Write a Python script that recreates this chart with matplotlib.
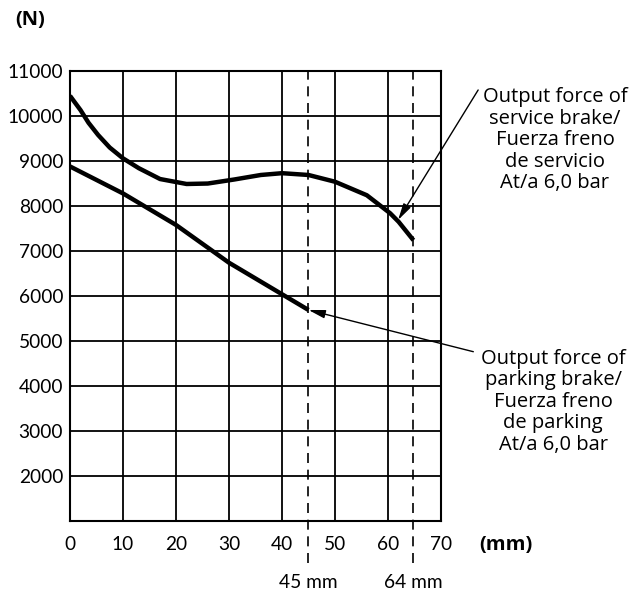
import matplotlib
matplotlib.use('Agg')
import matplotlib.pyplot as plt

# stroke (mm) vs output force (N)
service_x = [0, 2, 3.5, 5.3, 7.5, 10, 13, 17, 22, 26, 31, 36, 40, 45, 50, 56, 60.4, 62, 64.8]
service_y = [10450, 10130, 9850, 9580, 9300, 9060, 8840, 8600, 8490, 8500, 8590, 8690, 8730, 8690, 8540, 8240, 7840, 7650, 7240]

parking_x = [0, 10, 20, 30, 36, 40, 45]
parking_y = [8880, 8280, 7580, 6740, 6320, 6040, 5690]

x_ticks = [0, 10, 20, 30, 40, 50, 60, 70]
y_ticks = [2000, 3000, 4000, 5000, 6000, 7000, 8000, 9000, 10000, 11000]

marks = [45, 64.8]
mark_labels = ['45 mm', '64 mm']

service_text = 'Output force of\nservice brake/\nFuerza freno\nde servicio\nAt/a 6,0 bar'
parking_text = 'Output force of\nparking brake/\nFuerza freno\nde parking\nAt/a 6,0 bar'

tick_font = 'Lato'
note_font = 'Open Sans'

fig = plt.figure(figsize=(6.35, 5.92), dpi=100)
ax = fig.add_axes([0.1102, 0.1199, 0.5843, 0.7601])

ax.set_xlim(0, 70)
ax.set_ylim(1000, 11000)
ax.set_xticks(x_ticks)
ax.set_yticks(y_ticks)
ax.set_xticklabels([str(v) for v in x_ticks], family=tick_font, fontsize=13.8)
ax.set_yticklabels([str(v) for v in y_ticks], family=tick_font, fontsize=13.8)
ax.tick_params(axis='x', length=0, pad=11)
ax.tick_params(axis='y', length=0, pad=5)
ax.grid(True, color='black', lw=1.3)
for s in ax.spines.values():
    s.set_linewidth(1.5)

# dashed marks run below the axis down to their labels
for m, lab in zip(marks, mark_labels):
    ax.axvline(m, ymin=-0.093, ymax=1, color='black', lw=1.2,
               dashes=(6, 4), clip_on=False)
    ax.text(m, -0.1356, lab, transform=ax.get_xaxis_transform(),
            ha='center', va='center', family=tick_font, fontsize=13.8)

ax.plot(service_x, service_y, color='black', lw=3.2, solid_capstyle='butt')
ax.plot(parking_x, parking_y, color='black', lw=3.2, solid_capstyle='butt')

arrow = dict(arrowstyle='-|>,head_length=1.0,head_width=0.25', color='black',
             lw=1, shrinkA=0, shrinkB=0)
ax.annotate('', xy=(61.9, 7690), xytext=(0.753, 0.848),
            textcoords='figure fraction', arrowprops=arrow, annotation_clip=False)
ax.annotate('', xy=(45, 5690), xytext=(0.7454, 0.4059),
            textcoords='figure fraction', arrowprops=arrow, annotation_clip=False)

fig.text(0.874, 0.7627, service_text, ha='center', va='center',
         multialignment='center', family=note_font, fontsize=14.5, linespacing=1.1)
fig.text(0.871, 0.321, parking_text, ha='center', va='center',
         multialignment='center', family=note_font, fontsize=14.5, linespacing=1.1)

fig.text(0.047, 0.966, '(N)', ha='center', va='center', family=note_font,
         fontsize=14.5, fontweight='bold')
fig.text(0.797, 0.0794, '(mm)', ha='center', va='center', family=note_font,
         fontsize=14.5, fontweight='bold')

fig.savefig('out.png', dpi=100)
